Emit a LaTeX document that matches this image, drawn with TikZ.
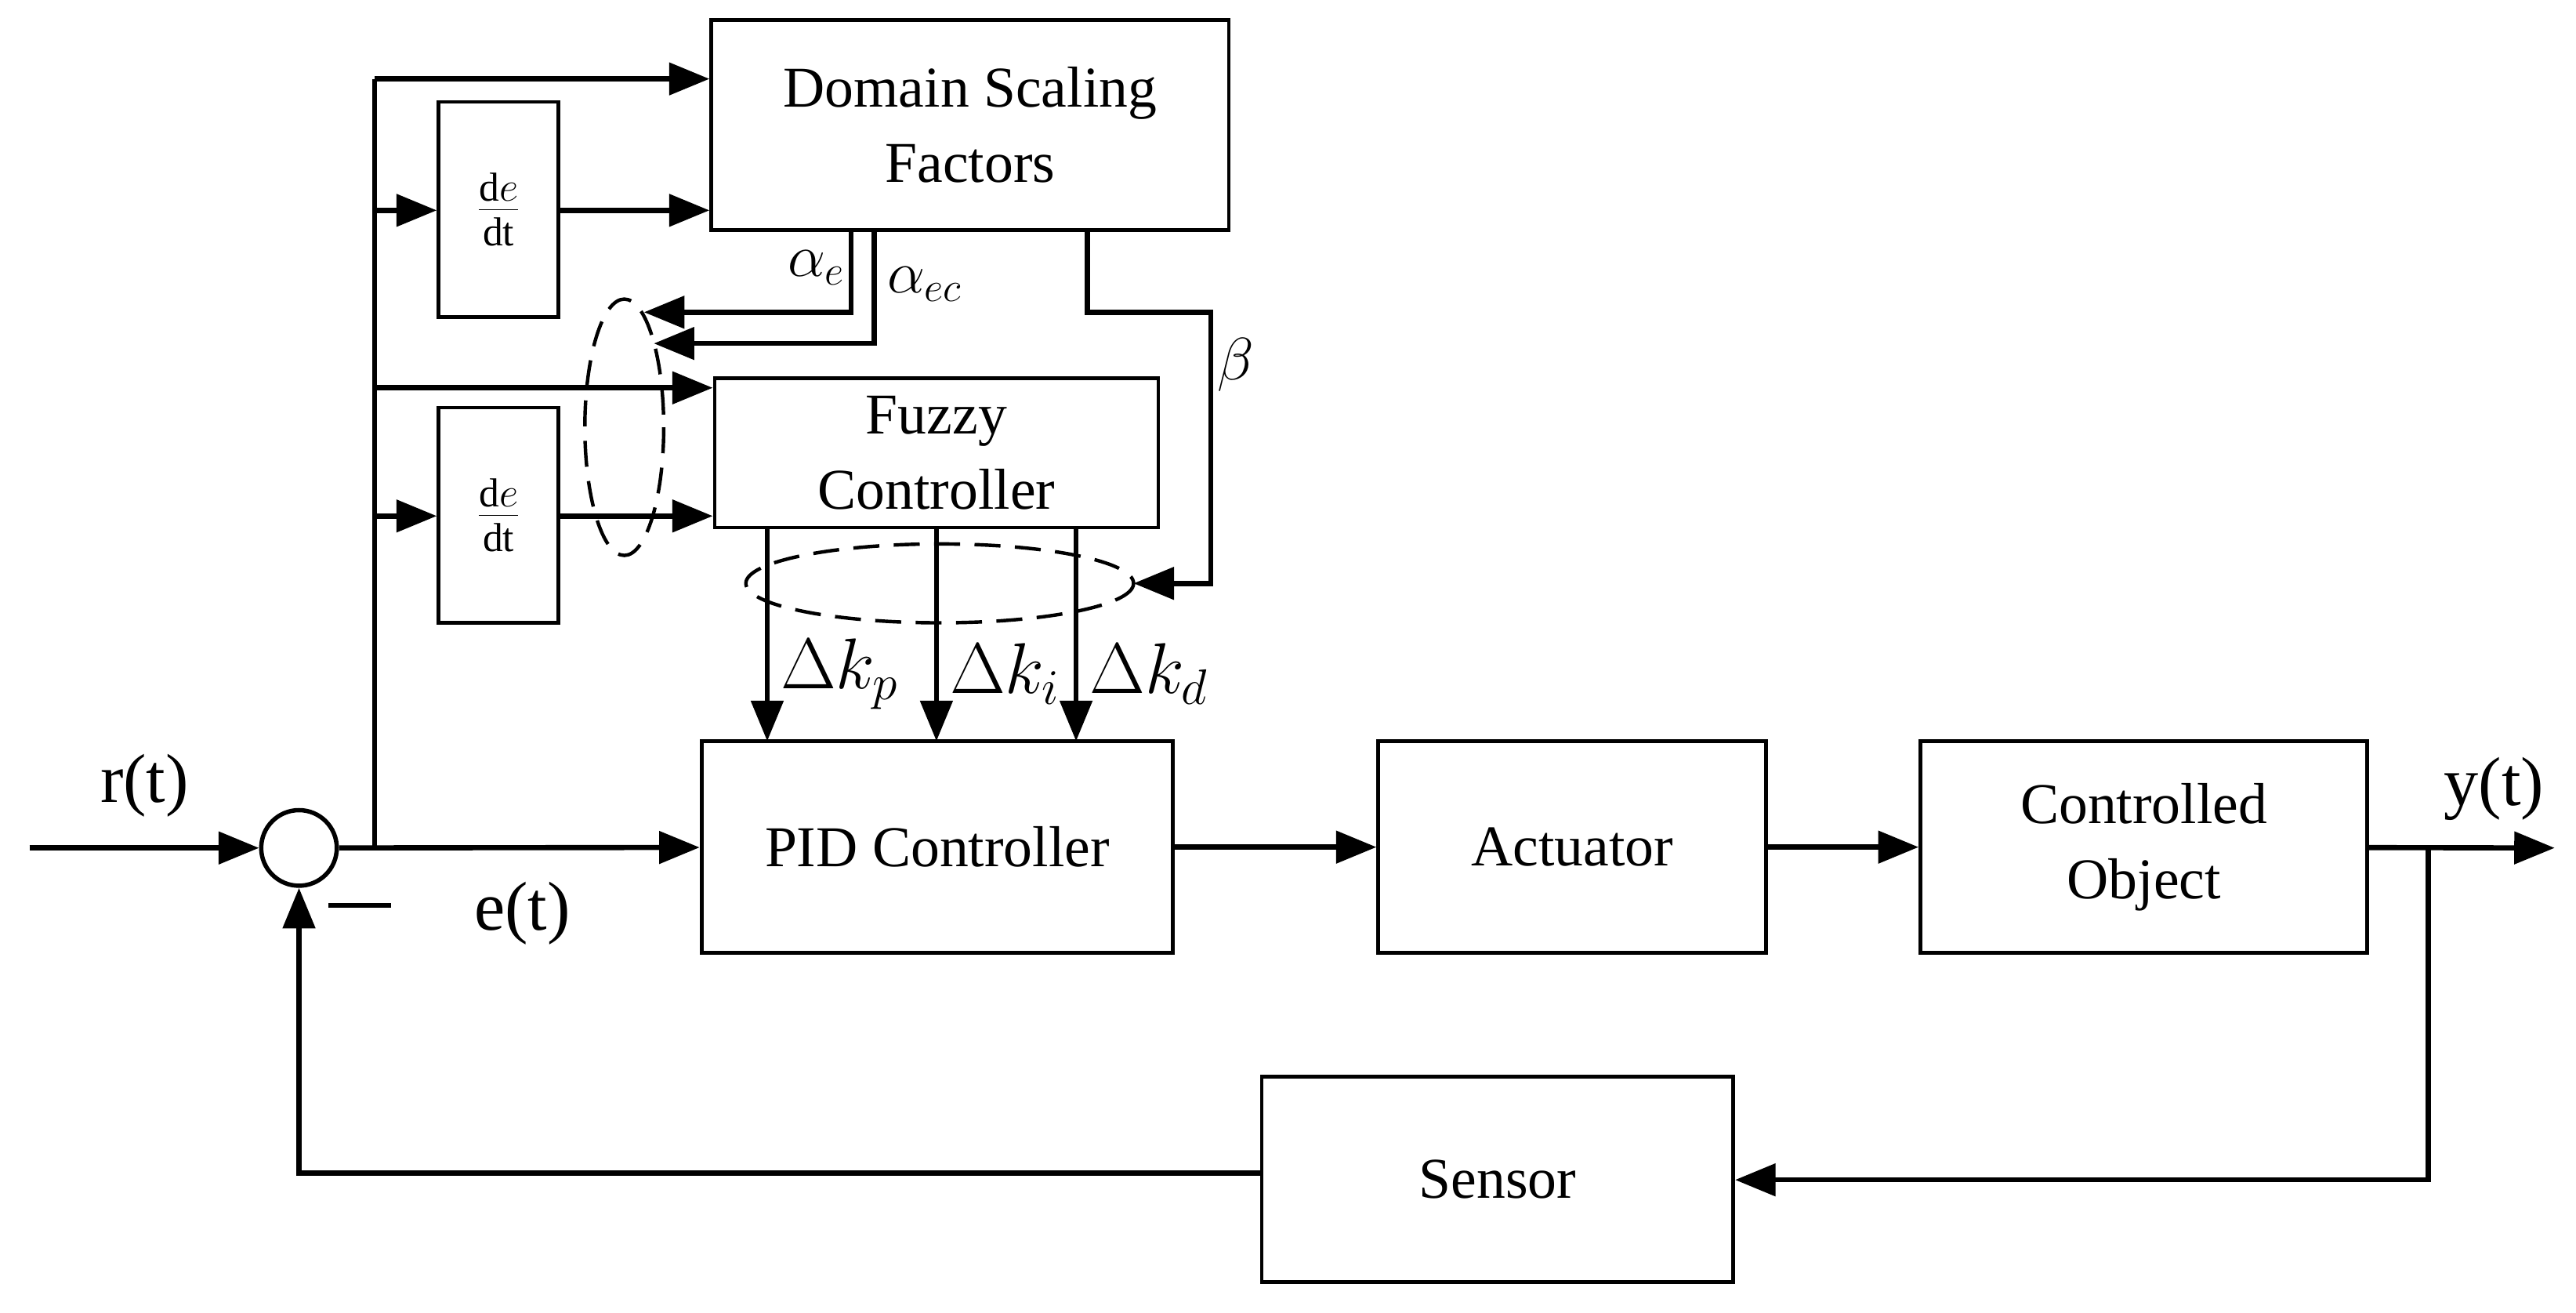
\documentclass[tikz,border=0pt]{standalone}
\usepackage{fontspec}
\setmainfont{Liberation Serif}
\usetikzlibrary{arrows.meta}
\begin{document}
\begin{tikzpicture}[x=0.02cm,y=-0.02cm,
  blk/.style={draw,line width=1.3pt,minimum width=#1,inner sep=0pt,align=center,font=\fontsize{20}{26}\selectfont},
  ln/.style={line width=1.8pt},
  ar/.style={line width=1.8pt,-{Triangle[length=14pt,width=11pt]}},
  lbl/.style={font=\fontsize{24}{28}\selectfont}]
\useasboundingbox (0,0) rectangle (1568,799);
\node[blk=315*0.02cm,minimum height=128*0.02cm] (dsf) at (590.5,76) {Domain Scaling\\Factors};
\node[blk=73*0.02cm,minimum height=131*0.02cm] (d1) at (303.5,127.5) {$\frac{\mathrm{d}e}{\mathrm{dt}}$};
\node[blk=270*0.02cm,minimum height=91*0.02cm] (fz) at (570,275.5) {Fuzzy\\Controller};
\node[blk=73*0.02cm,minimum height=131*0.02cm] (d2) at (303.5,313.5) {$\frac{\mathrm{d}e}{\mathrm{dt}}$};
\node[blk=287*0.02cm,minimum height=129*0.02cm] (pid) at (570.5,515.5) {PID Controller};
\node[blk=236*0.02cm,minimum height=129*0.02cm] (act) at (957,515.5) {Actuator};
\node[blk=272*0.02cm,minimum height=129*0.02cm] (co) at (1305,515.5) {Controlled\\Object};
\node[blk=287*0.02cm,minimum height=125*0.02cm] (sen) at (911.5,717.5) {Sensor};
\node[draw,circle,line width=1.5pt,minimum size=46*0.02cm,inner sep=0pt] (sum) at (182,516) {};
\coordinate (in) at (18,516);
\coordinate (out) at (1555,516);
\coordinate (j) at (228,516);
\coordinate (top) at (228,48);
\draw[ar] (in) -- (sum);
\draw[ln] (j) -- (top);
\draw[ar] (top) -- (dsf.west|-top);
\draw[ar] (228,128) -- (d1.west|-0,128);
\draw[ar] (d1.east|-0,128) -- (dsf.west|-0,128);
\draw[ar] (228,236) -- (fz.west|-0,236);
\draw[ar] (228,314) -- (d2.west|-0,314);
\draw[ar] (d2.east|-0,314) -- (fz.west|-0,314);
% alpha
\draw[ar] (518,140) -- (518,190) -- (392,190);
\draw[ar] (532,140) -- (532,209) -- (398,209);
\node[lbl,font=\fontsize{22}{26}\selectfont] (ae) at (497,163) {$\alpha_e$};
\node[lbl,font=\fontsize{22}{26}\selectfont] (aec) at (563,173) {$\alpha_{ec}$};
% beta
\draw[ar] (662,140) -- (662,190) -- (737,190) -- (737,355) -- (690,355);
\node[font=\fontsize{20}{24}\selectfont] (b) at (752,222) {$\beta$};
\draw[line width=1.2pt,dash pattern=on 9pt off 5pt] (380,260) ellipse [x radius=24,y radius=78];
\draw[line width=1.2pt,dash pattern=on 9pt off 5pt] (572,355) ellipse [x radius=118,y radius=24];
% fuzzy outputs
\foreach \xx/\nm/\sb in {467/kp/p,570/ki/i,655/kd/d}{
  \draw[ar] (\xx,321) -- (\xx,451);
  \node[lbl,anchor=west] (\nm) at (\xx+2,410) {$\Delta k_{\sb}$};
}
\draw[ar] (sum) -- (pid);
\draw[ar] (pid) -- (act);
\draw[ar] (act) -- (co);
\draw[ar] (co) -- (out);
\draw[ar] (1478,516) -- (1478,718) -- (sen.east|-0,718);
\draw[ar] (sen.west|-0,714) -- (182,714) -- (sum.south);
\node[lbl] (rt) at (88,478) {r(t)};
\node[lbl] (yt) at (1518,480) {y(t)};
\node[lbl] (et) at (318,556) {e(t)};
\draw[ln] (200,551) -- (238,551);
\end{tikzpicture}
\end{document}
